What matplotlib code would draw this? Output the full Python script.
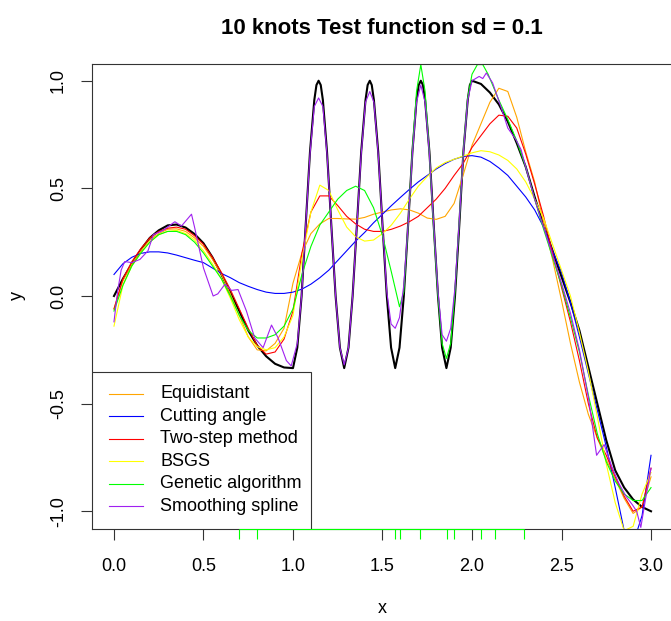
import matplotlib
matplotlib.use("Agg")
import matplotlib.pyplot as plt
from matplotlib.patches import Rectangle

plt.rcParams["font.family"] = ["Liberation Sans", "DejaVu Sans"]

# --- data ---------------------------------------------------------------
title = "10 knots Test function sd = 0.1"

# true test function (black)
true_x = [0.00, 0.05, 0.10, 0.15, 0.20, 0.25, 0.30, 0.35, 0.40, 0.45,
          0.50, 0.55, 0.60, 0.65, 0.70, 0.75, 0.80, 0.85, 0.90, 0.95,
          1.000, 1.024, 1.048, 1.071, 1.095, 1.119, 1.131, 1.143, 1.155, 1.167, 1.190, 1.214, 1.238, 1.262,
          1.286, 1.310, 1.333, 1.357, 1.381, 1.405, 1.417, 1.429, 1.440, 1.452, 1.476, 1.500, 1.524, 1.548,
          1.571, 1.595, 1.619, 1.643, 1.667, 1.690, 1.702, 1.714, 1.726, 1.738, 1.762, 1.786, 1.810, 1.833,
          1.857, 1.881, 1.905, 1.929, 1.952, 1.976, 1.988, 2.000,
          2.05, 2.10, 2.15, 2.20, 2.25, 2.30, 2.35, 2.40, 2.45, 2.50,
          2.55, 2.60, 2.65, 2.70, 2.75, 2.80, 2.85, 2.90, 2.95, 3.00]
true_y = [0.00, 0.08, 0.15, 0.215, 0.27, 0.305, 0.328, 0.332, 0.318, 0.288,
          0.245, 0.18, 0.10, 0.015, -0.07, -0.16, -0.23, -0.28, -0.315, -0.332,
          -0.335, -0.24, 0.0, 0.33, 0.67, 0.91, 0.98, 1.0, 0.98, 0.91, 0.67, 0.33, 0.0, -0.24,
          -0.335, -0.24, 0.0, 0.33, 0.67, 0.91, 0.98, 1.0, 0.98, 0.91, 0.67, 0.33, 0.0, -0.24,
          -0.335, -0.24, 0.0, 0.33, 0.67, 0.91, 0.98, 1.0, 0.98, 0.91, 0.67, 0.33, 0.0, -0.24,
          -0.335, -0.24, 0.0, 0.33, 0.67, 0.91, 0.98, 1.0,
          0.985, 0.945, 0.89, 0.81, 0.71, 0.60, 0.46, 0.33, 0.21, 0.09,
          -0.03, -0.16, -0.33, -0.50, -0.67, -0.81, -0.89, -0.945, -0.98, -1.0]

# fits sampled every 0.05 on [0, 3]
grid_x = [round(0.05 * i, 2) for i in range(61)]

equidistant_y = [-0.06, 0.07, 0.15, 0.21, 0.26, 0.29, 0.31, 0.312, 0.30, 0.27,
                 0.23, 0.17, 0.10, 0.01, -0.09, -0.19, -0.25, -0.255, -0.22, -0.15,
                 0.06, 0.20, 0.29, 0.335, 0.36, 0.36, 0.358, 0.357, 0.365, 0.38,
                 0.39, 0.40, 0.405, 0.40, 0.385, 0.362, 0.356, 0.37, 0.43, 0.56,
                 0.70, 0.80, 0.90, 0.965, 0.95, 0.83, 0.67, 0.53, 0.34, 0.17,
                 -0.02, -0.22, -0.40, -0.55, -0.66, -0.76, -0.85, -0.94, -1.01, -0.98,
                 -0.84]

cutting_y = [0.10, 0.15, 0.18, 0.198, 0.205, 0.205, 0.20, 0.19, 0.178, 0.166,
             0.155, 0.13, 0.105, 0.085, 0.062, 0.045, 0.03, 0.018, 0.012, 0.012,
             0.018, 0.032, 0.055, 0.085, 0.12, 0.165, 0.21, 0.255, 0.295, 0.34,
             0.38, 0.42, 0.458, 0.495, 0.53, 0.56, 0.59, 0.615, 0.635, 0.648,
             0.652, 0.645, 0.625, 0.595, 0.56, 0.51, 0.46, 0.40, 0.32, 0.21,
             0.11, -0.03, -0.19, -0.36, -0.53, -0.70, -0.89, -1.09, -1.15, -1.02,
             -0.74]

twostep_y = [-0.06, 0.08, 0.16, 0.22, 0.27, 0.30, 0.315, 0.32, 0.31, 0.28,
             0.24, 0.18, 0.11, 0.03, -0.06, -0.15, -0.23, -0.27, -0.26, -0.20,
             -0.07, 0.20, 0.39, 0.465, 0.465, 0.42, 0.37, 0.335, 0.31, 0.30,
             0.30, 0.31, 0.325, 0.345, 0.37, 0.41, 0.45, 0.50, 0.56, 0.615,
             0.69, 0.745, 0.80, 0.84, 0.835, 0.78, 0.66, 0.52, 0.37, 0.20,
             0.04, -0.12, -0.30, -0.50, -0.66, -0.74, -0.84, -0.93, -1.0, -0.98,
             -0.80]

bsgs_y = [-0.14, 0.05, 0.14, 0.20, 0.25, 0.285, 0.30, 0.305, 0.29, 0.26,
          0.21, 0.15, 0.08, -0.01, -0.11, -0.19, -0.235, -0.25, -0.24, -0.19,
          -0.09, 0.17, 0.39, 0.515, 0.49, 0.40, 0.32, 0.275, 0.255, 0.26,
          0.29, 0.33, 0.385, 0.45, 0.51, 0.555, 0.595, 0.62, 0.635, 0.65,
          0.665, 0.675, 0.67, 0.655, 0.63, 0.59, 0.53, 0.45, 0.36, 0.24,
          0.12, 0.0, -0.17, -0.35, -0.56, -0.78, -0.96, -1.09, -1.07, -0.92,
          -0.82]

# genetic algorithm fit (follows the wiggles after 1.6)
genetic_x = [0.00, 0.05, 0.10, 0.15, 0.20, 0.25, 0.30, 0.35, 0.40, 0.45,
             0.50, 0.55, 0.60, 0.65, 0.70, 0.75, 0.80, 0.85, 0.90, 0.95,
             1.00, 1.05, 1.10, 1.15, 1.20, 1.25, 1.30, 1.35, 1.40, 1.45,
             1.50, 1.55, 1.595, 1.619, 1.643, 1.667, 1.690, 1.714, 1.738, 1.762,
             1.786, 1.810, 1.833, 1.857, 1.881, 1.905, 1.929, 1.952, 1.976,
             2.00, 2.03, 2.06, 2.09, 2.12, 2.15,
             2.20, 2.25, 2.30, 2.35, 2.40, 2.45, 2.50, 2.55, 2.60, 2.65,
             2.70, 2.75, 2.80, 2.85, 2.90, 2.95, 3.00]
genetic_y = [-0.07, 0.05, 0.14, 0.20, 0.25, 0.285, 0.30, 0.30, 0.285, 0.25,
             0.20, 0.14, 0.08, 0.0, -0.09, -0.16, -0.195, -0.195, -0.18, -0.14,
             -0.06, 0.10, 0.23, 0.33, 0.39, 0.45, 0.49, 0.51, 0.49, 0.41,
             0.28, 0.11, -0.05, 0.02, 0.33, 0.68, 0.95, 1.075, 0.95, 0.66,
             0.31, 0.0, -0.22, -0.29, -0.22, 0.02, 0.35, 0.68, 0.92,
             1.03, 1.075, 1.075, 1.03, 0.97, 0.91,
             0.82, 0.72, 0.60, 0.45, 0.31, 0.18, 0.05, -0.10, -0.26, -0.46,
             -0.64, -0.77, -0.86, -0.92, -0.95, -0.95, -0.89]

# smoothing spline
spline_x = [0.00, 0.02, 0.04, 0.06, 0.10, 0.145, 0.19, 0.22, 0.275, 0.34,
            0.377, 0.433, 0.45, 0.50, 0.554, 0.58, 0.62, 0.656, 0.693, 0.74,
            0.786, 0.833, 0.88, 0.917, 0.963, 0.99,
            1.024, 1.048, 1.071, 1.095, 1.119, 1.143, 1.167, 1.190, 1.214, 1.238, 1.262,
            1.286, 1.310, 1.333, 1.357, 1.381, 1.405, 1.429, 1.452, 1.476, 1.500, 1.524, 1.548,
            1.571, 1.595, 1.619, 1.643, 1.667, 1.690, 1.714, 1.738, 1.762, 1.786, 1.810, 1.833,
            1.857, 1.881, 1.905, 1.929, 1.952, 1.976, 2.000,
            2.04, 2.06, 2.08, 2.115, 2.17, 2.20, 2.245, 2.274, 2.30, 2.35,
            2.40, 2.45, 2.50, 2.55, 2.60, 2.65, 2.696, 2.738, 2.78, 2.82,
            2.86, 2.896, 2.92, 2.943, 2.97, 3.00]
spline_y = [-0.12, 0.02, 0.12, 0.16, 0.155, 0.17, 0.21, 0.285, 0.305, 0.345,
            0.325, 0.38, 0.32, 0.13, 0.0, 0.01, 0.055, 0.026, 0.03, -0.07,
            -0.195, -0.24, -0.135, -0.195, -0.30, -0.325,
            -0.22, 0.0, 0.33, 0.66, 0.88, 0.92, 0.88, 0.66, 0.33, 0.0, -0.24,
            -0.32, -0.24, 0.0, 0.33, 0.66, 0.90, 0.95, 0.90, 0.66, 0.33, 0.02, -0.13,
            -0.15, -0.10, 0.05, 0.33, 0.66, 0.90, 0.98, 0.90, 0.66, 0.33, 0.02, -0.18,
            -0.21, -0.15, 0.04, 0.35, 0.67, 0.91, 1.0,
            1.02, 1.01, 1.036, 0.99, 0.858, 0.78, 0.727, 0.68, 0.60, 0.45,
            0.32, 0.19, 0.06, -0.08, -0.25, -0.47, -0.74, -0.69, -0.79, -0.87,
            -0.93, -0.97, -1.0, -1.075, -0.94, -0.80]

# knots chosen by the genetic algorithm (green rug)
ga_knots = [0.70, 0.80, 1.57, 1.60, 1.71, 1.86, 1.90, 2.05, 2.13, 2.29]

labels = ["Equidistant", "Cutting angle", "Two-step method", "BSGS",
          "Genetic algorithm", "Smoothing spline"]
colors = ["#FFA500", "#0000FF", "#FF0000", "#FFFF00", "#00FF00", "#A020F0"]
fits = [(grid_x, equidistant_y), (grid_x, cutting_y), (grid_x, twostep_y),
        (grid_x, bsgs_y), (genetic_x, genetic_y), (spline_x, spline_y)]

x_ticks = [0.0, 0.5, 1.0, 1.5, 2.0, 2.5, 3.0]
y_ticks = [-1.0, -0.5, 0.0, 0.5, 1.0]

# --- figure ---------------------------------------------------------------
W, H = 671, 621
fig = plt.figure(figsize=(W / 100, H / 100), dpi=100)
ax = fig.add_axes([92.5 / W, (H - 528.5) / H, 580 / W, 465 / H])

ax.plot(true_x, true_y, color="black", lw=1.5)
for (xs, ys), col in zip(fits, colors):
    ax.plot(xs, ys, color=col, lw=0.8)

ax.set_xlim(-0.12, 3.12)
ax.set_ylim(-1.08, 1.08)
ax.set_xticks(x_ticks)
ax.set_xticklabels([f"{v:.1f}" for v in x_ticks])
ax.set_yticks(y_ticks)
ax.set_yticklabels([f"{v:.1f}" for v in y_ticks], rotation=90, va="center")
ax.tick_params(direction="out", length=7.6, width=0.8, labelsize=13,
               color="#333333")
ax.tick_params(axis="x", pad=13.5)
ax.tick_params(axis="y", pad=10.8)
for sp in ax.spines.values():
    sp.set_linewidth(0.8)
    sp.set_color("#333333")

# rug of the GA knots under the x axis
trans = ax.get_xaxis_transform()
ax.vlines(ga_knots, -0.0226, 0, transform=trans, colors="#00FF00", lw=0.8,
          clip_on=False, zorder=4)
ax.hlines(0, ga_knots[0], ga_knots[-1], transform=trans, colors="#00FF00",
          lw=0.8, clip_on=False, zorder=4)

# legend box in the bottom-left corner, R style
ax.add_patch(Rectangle((0, 0), 0.3767, 0.3376, transform=ax.transAxes,
                       facecolor="white", edgecolor="#333333", lw=0.8, zorder=5))
for i, (lab, col) in enumerate(zip(labels, colors)):
    yk = 0.2903 - i * 0.0484
    ax.plot([0.0284, 0.0871], [yk, yk], transform=ax.transAxes, color=col,
            lw=0.8, zorder=6)
    ax.text(0.1164, yk, lab, transform=ax.transAxes, va="center", ha="left",
            fontsize=13, zorder=6)

fig.text(382 / W, 1 - 34 / H, title, ha="center", va="baseline",
         fontsize=16, fontweight="bold")
fig.text(382 / W, 1 - 613 / H, "x", ha="center", va="baseline", fontsize=13)
fig.text(17.5 / W, 1 - 295 / H, "y", ha="center", va="center", rotation=90,
         fontsize=13)

fig.savefig("out.png", dpi=100)
